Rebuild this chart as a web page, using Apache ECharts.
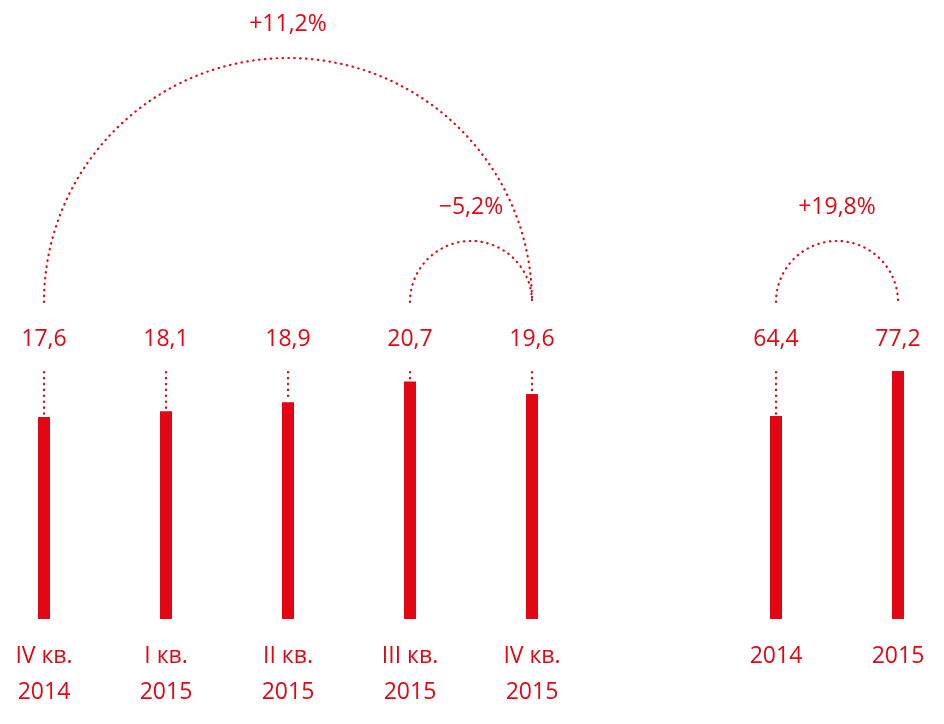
<!DOCTYPE html>
<html><head><meta charset="utf-8">
<script src="https://cdn.jsdelivr.net/npm/echarts@6/dist/echarts.min.js"></script>
<style>html,body{margin:0;padding:0;background:#fff}#c{width:944px;height:724px}</style>
</head><body><div id="c"></div>
<script>
// ---- data ----
const categories = ['IV кв.\n2014', 'I кв.\n2015', 'II кв.\n2015', 'III кв.\n2015', 'IV кв.\n2015', '', '2014', '2015'];
const quarterValues = [17.6, 18.1, 18.9, 20.7, 19.6, null, null, null];
const yearValues = [null, null, null, null, null, null, 64.4, 77.2];
const changeLabels = ['+11,2%', '−5,2%', '+19,8%'];
const changeFrom = [0, 3, 6];
const changeTo = [4, 4, 7];

// ---- style ----
const RED = '#e30613';
const FONT = 'Open Sans';
const FS = 23;
const LABEL_Y = 339;     // value label centre
const CONNECT_Y = 372;   // dotted connector start
const ARC_BASE = 302;    // arcs baseline
const dotted = { stroke: RED, lineWidth: 2.2, lineDash: [0.5, 5.4], lineCap: 'round', fill: null };

function fmt(v) { return v.toFixed(1).replace('.', ','); }

function labelRender(params, api) {
  const p = api.coord([api.value(0), api.value(1)]);
  const children = [{
    type: 'text',
    style: { x: p[0], y: LABEL_Y, text: fmt(api.value(1)), fill: RED, fontSize: FS, fontFamily: FONT, align: 'center', verticalAlign: 'middle' }
  }];
  if (p[1] > CONNECT_Y + 3) {
    children.push({ type: 'line', shape: { x1: p[0], y1: CONNECT_Y, x2: p[0], y2: p[1] - 2 }, style: Object.assign({}, dotted) });
  }
  return { type: 'group', children };
}

function arcRender(params, api) {
  const i = params.dataIndex;
  const x1 = api.coord([changeFrom[i], 0])[0];
  const x2 = api.coord([changeTo[i], 0])[0];
  const cx = (x1 + x2) / 2, r = Math.abs(x2 - x1) / 2;
  return {
    type: 'group',
    children: [
      { type: 'arc', shape: { cx, cy: ARC_BASE, r, startAngle: Math.PI, endAngle: 2 * Math.PI, clockwise: true }, style: Object.assign({}, dotted) },
      { type: 'text', style: { x: cx, y: ARC_BASE - r - 34, text: changeLabels[i], fill: RED, fontSize: FS, fontFamily: FONT, align: 'center', verticalAlign: 'middle' } }
    ]
  };
}

const chart = echarts.init(document.getElementById('c'), null, { renderer: 'canvas' });
chart.setOption({
  animation: false,
  backgroundColor: '#fff',
  grid: { left: 44, right: 46, top: 0, bottom: 105, containLabel: false },
  xAxis: {
    type: 'category', data: categories, boundaryGap: false,
    axisLine: { show: false }, axisTick: { show: false }, splitLine: { show: false },
    axisLabel: { interval: 0, color: RED, fontSize: FS, fontFamily: FONT, lineHeight: 36, margin: 19 }
  },
  yAxis: [
    { type: 'value', min: 0, max: 53.95, show: false, splitLine: { show: false } },
    { type: 'value', min: 6.7, max: 182.7, show: false, splitLine: { show: false } }
  ],
  series: [
    { type: 'bar', yAxisIndex: 0, data: quarterValues, barWidth: 12, barGap: '-100%', clip: false, itemStyle: { color: RED }, silent: true },
    { type: 'bar', yAxisIndex: 1, data: yearValues, barWidth: 12, barGap: '-100%', clip: true, itemStyle: { color: RED }, silent: true },
    { type: 'custom', yAxisIndex: 0, renderItem: labelRender, clip: false, silent: true,
      data: quarterValues.map((v, i) => v == null ? null : [i, v]).filter(d => d) },
    { type: 'custom', yAxisIndex: 1, renderItem: labelRender, clip: false, silent: true,
      data: yearValues.map((v, i) => v == null ? null : [i, v]).filter(d => d) },
    { type: 'custom', yAxisIndex: 0, renderItem: arcRender, clip: false, silent: true,
      data: changeFrom.map((f, i) => [f, changeTo[i]]) }
  ]
});
</script></body></html>
